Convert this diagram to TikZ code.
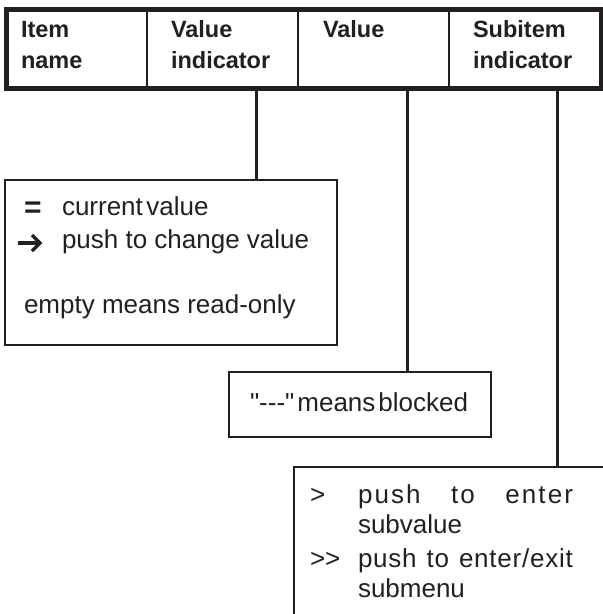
\documentclass[tikz,border=0pt]{standalone}
\usepackage{fontspec}
\setmainfont{Liberation Sans}[Ligatures=TeXOff]
\definecolor{ink}{RGB}{35,31,32}
\begin{document}
\begin{tikzpicture}[x=1pt,y=-1pt,
  every node/.style={inner sep=0pt,outer sep=0pt,text=ink},
  frame/.style={draw=ink,anchor=north west,fill=none},
  divider/.style={draw=ink,line width=2pt},
  conn/.style={draw=ink,line width=3pt},
  glyph/.style={draw=ink,line width=3.4pt},
  txt/.style={anchor=base west,font=\fontsize{26}{31}\selectfont},
  hdr/.style={anchor=base west,font=\fontsize{23.5}{28}\selectfont\bfseries}]
\useasboundingbox (0,0) rectangle (603,614);
\clip (0,0) rectangle (603,614);

% header bar
\node[frame,line width=5pt,minimum width=595pt,minimum height=79pt] (header) at (6,9.5) {};
\draw[divider] (147,9.5) -- (147,88.5);
\draw[divider] (298,9.5) -- (298,88.5);
\draw[divider] (449,9.5) -- (449,88.5);
\node[hdr] (h1a) at (21,37) {Item};
\node[hdr] (h1b) at (21,68) {name};
\node[hdr] (h2a) at (171,37) {Value};
\node[hdr] (h2b) at (171,68) {indicator};
\node[hdr] (h3a) at (323,37) {Value};
\node[hdr] (h4a) at (473,37) {Subitem};
\node[hdr] (h4b) at (473,68) {indicator};

% boxes
\node[frame,line width=2.5pt,minimum width=332pt,minimum height=165pt] (legend) at (5,180) {};
\node[frame,line width=2.8pt,minimum width=262pt,minimum height=65pt] (blocked) at (229,372) {};
\node[frame,line width=2.2pt,minimum width=340pt,minimum height=180pt] (sub) at (294,467) {};

% connectors
\coordinate (c1) at (256,88.5);
\coordinate (c2) at (407.5,88.5);
\coordinate (c3) at (557,88.5);
\draw[conn] (c1) -- (c1 |- legend.north);
\draw[conn] (c2) -- (c2 |- blocked.north);
\draw[conn] (c3) -- (c3 |- sub.north);

% legend symbols
\node[txt,font=\fontsize{30}{31}\selectfont\bfseries] (eq) at (24,217) {=};
\coordinate (arrA) at (18,243);
\coordinate (arrB) at (40,243);
\draw[glyph] (arrA) -- (arrB);
\draw[glyph,line join=miter] ([shift={(-8,-8)}]arrB) -- (arrB) -- ([shift={(-8,8)}]arrB);

% legend text
\node[txt] (l1) at (62,215) {\spaceskip=3.5pt current value};
\node[txt] (l2) at (62,248) {push to change value};
\node[txt] (l3) at (24,313) {empty means read-only};

% blocked text
\node[txt] (b1) at (250,411) {\spaceskip=3pt "---" means blocked};

% subitem text
\node[txt] (s1) at (310,503) {>};
\node[txt] (s2) at (358,503) {\makebox[215pt][s]{\addfontfeature{LetterSpace=8}push\hfill to\hfill enter}};
\node[txt] (s3) at (358,533) {subvalue};
\node[txt] (s4) at (310,567) {>>};
\node[txt] (s5) at (358,567) {\makebox[215pt][s]{\addfontfeature{LetterSpace=3}push to enter/exit}};
\node[txt] (s6) at (358,597) {submenu};
\end{tikzpicture}
\end{document}
